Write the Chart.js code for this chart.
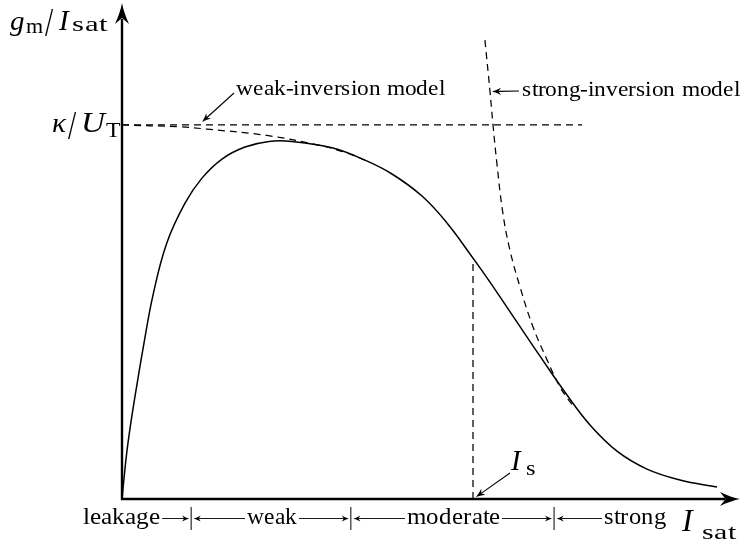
<!DOCTYPE html>
<html>
<head>
<meta charset="utf-8">
<script src="https://cdn.jsdelivr.net/npm/chart.js@4/dist/chart.umd.min.js"></script>
<style>
  @font-face { font-family: 'FigSerif'; font-style: normal; font-weight: 400;
    src: local('Liberation Serif'), local('LiberationSerif'), local('LiberationSerif-Regular'), local('Tinos'), local('Times New Roman'); }
  @font-face { font-family: 'FigSerif'; font-style: italic; font-weight: 400;
    src: local('Liberation Serif Italic'), local('LiberationSerif-Italic'), local('Tinos Italic'), local('Times New Roman Italic'); }
  html, body { margin: 0; padding: 0; background: #fff; }
  #wrap { width: 748px; height: 546px; }
</style>
</head>
<body>
<div id="wrap"><canvas id="c" width="748" height="546"></canvas></div>
<script>
// g_m/I_sat versus I_sat, in units where kappa/U_T = 1 and I_s = 1
const solidX = [0, 0.0128, 0.0256, 0.0419, 0.0607, 0.0883, 0.1274, 0.1795, 0.2279, 0.2849, 0.3504,
                0.4188, 0.4843, 0.5983, 0.6923, 0.7692, 0.8547, 0.9259, 1.0, 1.0484, 1.1254, 1.1909,
                1.2678, 1.3333, 1.4103, 1.4957, 1.5897, 1.6952];
const solidY = [0, 0.118, 0.206, 0.302, 0.406, 0.545, 0.684, 0.791, 0.858, 0.909, 0.941,
                0.956, 0.956, 0.939, 0.906, 0.869, 0.810, 0.738, 0.644, 0.580, 0.473, 0.382,
                0.278, 0.198, 0.128, 0.080, 0.051, 0.032];

// weak-inversion asymptote (bends away from the kappa/U_T level)
const weakX = [0, 0.165, 0.242, 0.413, 0.556, 0.641, 0.692];
const weakY = [1.0, 0.995, 0.989, 0.972, 0.947, 0.925, 0.906];

// strong-inversion asymptote
const strongX = [1.034, 1.048, 1.057, 1.068, 1.085, 1.105, 1.134, 1.171, 1.211, 1.248, 1.270, 1.285];
const strongY = [1.227, 1.094, 1.0, 0.898, 0.765, 0.666, 0.567, 0.460, 0.372, 0.299, 0.268, 0.250];

const kappaOverUT = 1;        // weak-inversion plateau
const kappaLineEnd = 1.311;   // where the dashed plateau stops
const isValue = 1;            // specific current I_s
const isCurveValue = 0.644;   // curve height at I_s
const regionEdges = [0.197, 0.652, 1.231];
const regionLabels = ['leakage', 'weak', 'moderate', 'strong'];
const xMax = 1.7607, yMax = 1.3262;

const INK = '#000';
const SERIF = 'FigSerif, "Liberation Serif", serif';

function pts(xs, ys) { return xs.map((x, i) => ({ x, y: ys[i] })); }

// draws text at a baseline, optionally stretched to a width or scaled vertically
function drawText(ctx, str, x, y, font, width, ky) {
  ctx.save();
  ctx.font = font;
  const w = ctx.measureText(str).width;
  const k = width ? width / w : 1;
  ctx.translate(x, y);
  ctx.scale(k, ky || 1);
  ctx.textAlign = 'left';
  ctx.textBaseline = 'alphabetic';
  ctx.fillText(str, 0, 0);
  ctx.restore();
  return w * k;
}

function mathLabel(ctx, parts, baseline) {
  parts.forEach(p => {
    const font = (p.it ? 'italic ' : '') + p.size + 'px ' + SERIF;
    drawText(ctx, p.t, p.x, baseline + (p.dy || 0), font, p.w, p.ky);
  });
}

function arrowHead(ctx, x, y, ang, len, half) {
  ctx.save();
  ctx.translate(x, y);
  ctx.rotate(ang);
  ctx.beginPath();
  ctx.moveTo(0, 0);
  ctx.quadraticCurveTo(-len * 0.45, -half * 0.25, -len, -half);
  ctx.lineTo(-len * 0.72, 0);
  ctx.lineTo(-len, half);
  ctx.quadraticCurveTo(-len * 0.45, half * 0.25, 0, 0);
  ctx.closePath();
  ctx.fill();
  ctx.restore();
}

function arrow(ctx, x1, y1, x2, y2, len, half) {
  const a = Math.atan2(y2 - y1, x2 - x1);
  ctx.beginPath();
  ctx.moveTo(x1, y1);
  ctx.lineTo(x2 - Math.cos(a) * len * 0.7, y2 - Math.sin(a) * len * 0.7);
  ctx.stroke();
  arrowHead(ctx, x2, y2, a, len, half);
}

const decorations = {
  id: 'decorations',
  afterDraw(chart) {
    const ctx = chart.ctx;
    const sx = v => chart.scales.x.getPixelForValue(v);
    const sy = v => chart.scales.y.getPixelForValue(v);
    const area = chart.chartArea;
    const x0 = sx(0), y0 = sy(0);

    ctx.save();
    ctx.strokeStyle = INK;
    ctx.fillStyle = INK;
    ctx.lineCap = 'butt';

    // axes with arrowheads
    ctx.lineWidth = 2.4;
    ctx.beginPath();
    ctx.moveTo(x0, y0 + 1.2);
    ctx.lineTo(x0, area.top + 16);
    ctx.moveTo(x0 - 1.2, y0);
    ctx.lineTo(area.right - 15, y0);
    ctx.stroke();
    arrowHead(ctx, x0, area.top, -Math.PI / 2, 21, 7);
    arrowHead(ctx, area.right, y0, 0, 20, 7);

    // axis labels
    mathLabel(ctx, [
      { t: 'g', it: true, size: 29, x: 10 },
      { t: 'm', size: 22, x: 26, w: 17, dy: 3 },
      { t: '/', size: 29, x: 45, dy: 6, ky: 1.4 },
      { t: 'I', it: true, size: 29, x: 59 },
      { t: 'sat', size: 22, x: 72, w: 35, dy: 1 }
    ], 30);
    mathLabel(ctx, [
      { t: 'κ', it: true, size: 29, x: 52 },
      { t: '/', size: 29, x: 68, dy: 7, ky: 1.4 },
      { t: 'U', it: true, size: 29, x: 81, w: 24 },
      { t: 'T', size: 22, x: 106, w: 14, dy: 5 }
    ], 132);
    mathLabel(ctx, [
      { t: 'I', it: true, size: 32, x: 682 },
      { t: 'sat', size: 22, x: 702, w: 34, dy: 8 }
    ], 531);
    mathLabel(ctx, [
      { t: 'I', it: true, size: 29, x: 511 },
      { t: 's', size: 22, x: 526, w: 10, dy: 5 }
    ], 470);

    // model annotations
    ctx.lineWidth = 1.1;
    drawText(ctx, 'weak-inversion model', 236, 95, '22px ' + SERIF, 209);
    arrow(ctx, 234, 93, sx(0.228), sy(kappaOverUT) - 3, 9, 3.6);
    drawText(ctx, 'strong-inversion model', 522, 96, '22px ' + SERIF, 218);
    arrow(ctx, 519, 91, sx(1.054), 91.5, 9, 3.6);
    arrow(ctx, 510, 473, sx(isValue) + 3, y0 - 2, 9, 3.6);

    // operating regions along the current axis
    const base = 524, mid = 518.5;
    const e = regionEdges.map(sx);
    ctx.lineWidth = 1;
    e.forEach(px => {
      ctx.beginPath();
      ctx.moveTo(px, 507);
      ctx.lineTo(px, 530);
      ctx.stroke();
    });
    const font = '23px ' + SERIF;
    const widths = { leakage: 77, weak: 50, moderate: 93, strong: 63 };
    ctx.lineWidth = 0.9;
    // leakage ->|
    const lkEnd = e[0] - 31;
    drawText(ctx, regionLabels[0], lkEnd - widths.leakage, base, font, widths.leakage);
    arrow(ctx, lkEnd + 2, mid, e[0] - 2, mid, 7, 3);
    // |<- weak ->|  and  |<- moderate ->|
    [[e[0], e[1], regionLabels[1]], [e[1], e[2], regionLabels[2]]].forEach(([a, b, lab]) => {
      const w = widths[lab];
      const c = (a + b) / 2 + 1;
      drawText(ctx, lab, c - w / 2, base, font, w);
      arrow(ctx, c - w / 2 - 2, mid, a + 2.5, mid, 7, 3);
      arrow(ctx, c + w / 2 + 2, mid, b - 2, mid, 7, 3);
    });
    // |<- strong
    const stStart = e[2] + 50;
    drawText(ctx, regionLabels[3], stStart, base, font, widths.strong);
    arrow(ctx, stStart - 2, mid, e[2] + 2.5, mid, 7, 3);

    ctx.restore();
  }
};

const dashed = { borderColor: INK, borderWidth: 1.25, borderDash: [7, 5], pointRadius: 0, showLine: true, fill: false };

function build() {
  new Chart(document.getElementById('c'), {
    type: 'scatter',
    data: {
      datasets: [
        { label: 'plateau', data: pts([0, kappaLineEnd], [kappaOverUT, kappaOverUT]), ...dashed, tension: 0 },
        { label: 'weak-inversion model', data: pts(weakX, weakY), ...dashed, tension: 0.4 },
        { label: 'strong-inversion model', data: pts(strongX, strongY), ...dashed, tension: 0.4 },
        { label: 'I_s', data: pts([isValue, isValue], [0, isCurveValue]), ...dashed, tension: 0 },
        { label: 'g_m/I_sat', data: pts(solidX, solidY), borderColor: INK, borderWidth: 1.5, pointRadius: 0,
          showLine: true, fill: false, tension: 0.4 }
      ]
    },
    options: {
      responsive: false,
      animation: false,
      events: [],
      layout: { padding: { left: 122, right: 8, top: 3, bottom: 47 } },
      scales: {
        x: { type: 'linear', min: 0, max: xMax, display: false },
        y: { type: 'linear', min: 0, max: yMax, display: false }
      },
      plugins: { legend: { display: false }, tooltip: { enabled: false } }
    },
    plugins: [decorations]
  });
}

Promise.all([
  document.fonts.load('22px FigSerif'),
  document.fonts.load('italic 29px FigSerif')
]).then(build, build);
</script>
</body>
</html>
